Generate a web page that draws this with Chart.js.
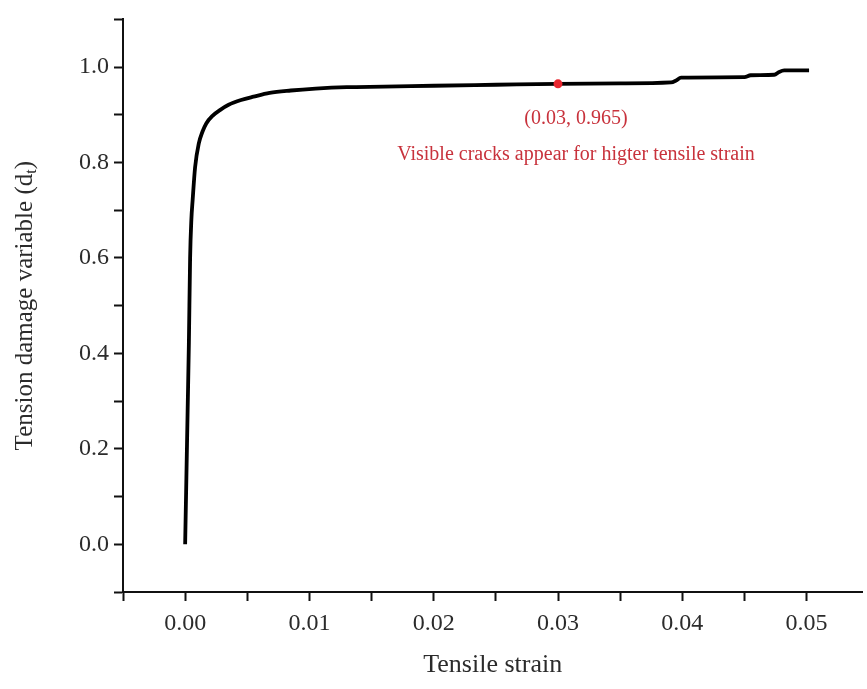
<!DOCTYPE html>
<html>
<head>
<meta charset="utf-8">
<script src="https://cdn.jsdelivr.net/npm/chart.js@4.4.1/dist/chart.umd.min.js"></script>
<style>
html, body { margin: 0; padding: 0; background: #fff; }
#wrap { width: 867px; height: 689px; }
</style>
</head>
<body>
<div id="wrap"><canvas id="chartDamage"></canvas></div>
<script>
// tension damage curve
var strain = [0, 0.0001, 0.0002, 0.0003, 0.0004, 0.0005, 0.0006, 0.0008, 0.0011, 0.0014,
    0.0017, 0.0022, 0.0028, 0.0035, 0.0045, 0.0055, 0.0068, 0.0085, 0.0105, 0.013,
    0.016, 0.02, 0.025, 0.03, 0.035, 0.0391, 0.0395, 0.0399, 0.045, 0.0455,
    0.0474, 0.0478, 0.0482, 0.0502];
var damage = [0, 0.14, 0.28, 0.42, 0.6, 0.68, 0.72, 0.79, 0.84, 0.865,
    0.882, 0.898, 0.91, 0.921, 0.931, 0.938, 0.946, 0.951, 0.955, 0.958,
    0.959, 0.961, 0.963, 0.965, 0.966, 0.968, 0.972, 0.978, 0.979, 0.983,
    0.984, 0.99, 0.993, 0.993];

// highlighted point
var markStrain = [0.03];
var markDamage = [0.965];
var markLabel = "(0.03, 0.965)";
var markNote = "Visible cracks appear for higter tensile strain";

var xTicks = [-0.005, 0, 0.005, 0.01, 0.015, 0.02, 0.025, 0.03, 0.035, 0.04, 0.045, 0.05];
var yTicks = [-0.1, 0, 0.1, 0.2, 0.3, 0.4, 0.5, 0.6, 0.7, 0.8, 0.9, 1.0, 1.1];

var serif = "'Liberation Serif', 'Times New Roman', serif";
var textColor = "#2b2b2b";

var labelsPlugin = {
    id: "labels",
    afterDraw: function (chart) {
        var ctx = chart.ctx;
        var xs = chart.scales.x, ys = chart.scales.y;
        ctx.save();

        // annotation under the red point
        var px = xs.getPixelForValue(markStrain[0]);
        var py = ys.getPixelForValue(markDamage[0]);
        ctx.fillStyle = "#c8323c";
        ctx.textAlign = "center";
        ctx.textBaseline = "middle";
        ctx.font = "20px " + serif;
        ctx.fillText(markLabel, px + 18, py + 35);
        ctx.fillText(markNote, px + 18, py + 71);

        // y title with subscript t
        var main = "Tension damage variable (d";
        ctx.fillStyle = textColor;
        ctx.font = "25px " + serif;
        var w1 = ctx.measureText(main).width;
        ctx.font = "16px " + serif;
        var w2 = ctx.measureText("t").width;
        ctx.font = "25px " + serif;
        var w3 = ctx.measureText(")").width;
        var total = w1 + w2 + w3;
        ctx.translate(25, (ys.top + ys.bottom) / 2);
        ctx.rotate(-Math.PI / 2);
        ctx.textAlign = "left";
        ctx.textBaseline = "middle";
        var x0 = -total / 2;
        ctx.fillText(main, x0, 0);
        ctx.font = "16px " + serif;
        ctx.fillText("t", x0 + w1, 7);
        ctx.font = "25px " + serif;
        ctx.fillText(")", x0 + w1 + w2, 0);
        ctx.restore();
    }
};

var ctx = document.getElementById("chartDamage").getContext("2d");

const chartDamage = new Chart(ctx, {
    type: "scatter",
    data: {
    datasets: [
        {
        label: "mark",
        data: markStrain.map(function (v, i) { return { x: v, y: markDamage[i] }; }),
        backgroundColor: "#e8262f",
        borderWidth: 0,
        pointRadius: 4.5,
        showLine: false,
        order: 0,
        },
        {
        label: "dt",
        data: strain.map(function (v, i) { return { x: v, y: damage[i] }; }),
        borderColor: "#000",
        borderWidth: 3.8,
        pointRadius: 0,
        showLine: true,
        cubicInterpolationMode: "monotone",
        order: 1,
        },
    ],
    },
    options: {
    responsive: true,
    maintainAspectRatio: false,
    animation: false,
    layout: {
        padding: { top: 12, left: 0, right: 0, bottom: 0 },
    },
    plugins: {
        legend: { display: false },
        tooltip: { enabled: false },
    },
    scales: {
        x: {
        type: "linear",
        min: -0.005,
        max: 0.0545,
        afterBuildTicks: function (s) {
            s.ticks = xTicks.map(function (v) { return { value: v }; });
        },
        afterFit: function (s) { s.height = 97; },
        grid: {
            drawOnChartArea: false,
            drawTicks: true,
            tickLength: 9,
            tickWidth: 2,
            tickColor: "#111",
        },
        border: { display: true, color: "#111", width: 2 },
        ticks: {
            color: textColor,
            font: { family: serif, size: 24 },
            padding: 8,
            maxRotation: 0,
            autoSkip: false,
            callback: function (v) {
                var k = Math.round(v * 1000);
                return (k >= 0 && k % 10 === 0) ? v.toFixed(2) : "";
            },
        },
        title: {
            display: true,
            text: "Tensile strain",
            color: textColor,
            font: { family: serif, size: 26 },
            padding: { top: 0, bottom: 8 },
        },
        },
        y: {
        min: -0.1,
        max: 1.1,
        afterBuildTicks: function (s) {
            s.ticks = yTicks.map(function (v) { return { value: v }; });
        },
        afterFit: function (s) { s.width = 123; },
        grid: {
            drawOnChartArea: false,
            drawTicks: true,
            tickLength: 9,
            tickWidth: 2,
            tickColor: "#111",
        },
        border: { display: true, color: "#111", width: 2 },
        ticks: {
            color: textColor,
            font: { family: serif, size: 24 },
            padding: 5,
            autoSkip: false,
            callback: function (v) {
                var k = Math.round(v * 10);
                return (k >= 0 && k <= 10 && k % 2 === 0) ? v.toFixed(1) : "";
            },
        },
        },
    },
    },
    plugins: [labelsPlugin],
});
</script>
</body>
</html>
